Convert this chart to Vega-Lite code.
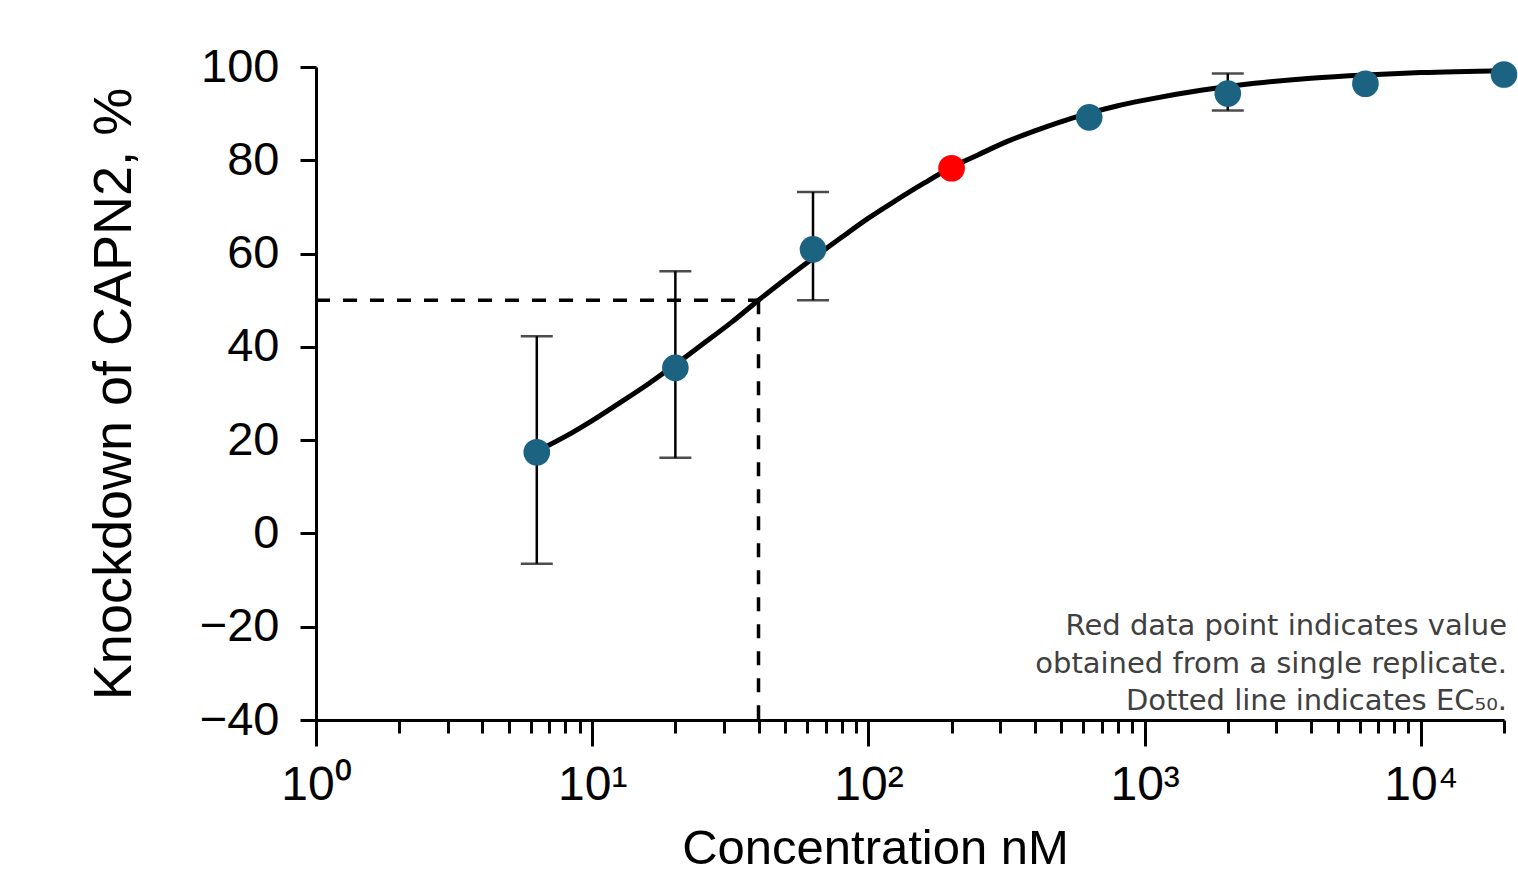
{
  "$schema": "https://vega.github.io/schema/vega-lite/v6.json",
  "width": 1188,
  "height": 653,
  "autosize": "none",
  "padding": {"left": 316, "top": 67, "right": 14, "bottom": 156},
  "background": "white",
  "config": {
    "view": {"stroke": null},
    "font": "Liberation Sans",
    "axis": {"domainColor": "black", "tickColor": "black", "labelColor": "black", "titleColor": "black", "labelFont": "Liberation Sans", "titleFont": "Liberation Sans", "titleFontWeight": "normal", "grid": false}
  },
  "datasets": {
    "obs": [
      {"conc": 6.3, "pct": 17.4, "lo": -6.5, "hi": 42.3, "replicate": "multiple"},
      {"conc": 20, "pct": 35.5, "lo": 16.2, "hi": 56.2, "replicate": "multiple"},
      {"conc": 63, "pct": 60.9, "lo": 50.0, "hi": 73.2, "replicate": "multiple"},
      {"conc": 200, "pct": 78.3, "lo": null, "hi": null, "replicate": "single"},
      {"conc": 630, "pct": 89.2, "lo": null, "hi": null, "replicate": "multiple"},
      {"conc": 2000, "pct": 94.3, "lo": 90.7, "hi": 98.6, "replicate": "multiple"},
      {"conc": 6300, "pct": 96.4, "lo": null, "hi": null, "replicate": "multiple"},
      {"conc": 20000, "pct": 98.4, "lo": null, "hi": null, "replicate": "multiple"}
    ],
    "fit": [
      {"conc": 6.3, "pct": 17.6},
      {"conc": 8, "pct": 20.8},
      {"conc": 10, "pct": 24.2},
      {"conc": 12.5, "pct": 27.9},
      {"conc": 16, "pct": 32.1},
      {"conc": 20, "pct": 36.2},
      {"conc": 25, "pct": 40.5},
      {"conc": 32, "pct": 45.3},
      {"conc": 40, "pct": 50.0},
      {"conc": 50, "pct": 54.5},
      {"conc": 63, "pct": 59.0},
      {"conc": 80, "pct": 63.5},
      {"conc": 100, "pct": 67.6},
      {"conc": 125, "pct": 71.3},
      {"conc": 160, "pct": 75.2},
      {"conc": 200, "pct": 78.5},
      {"conc": 250, "pct": 81.2},
      {"conc": 320, "pct": 84.1},
      {"conc": 400, "pct": 86.3},
      {"conc": 500, "pct": 88.3},
      {"conc": 630, "pct": 90.1},
      {"conc": 800, "pct": 91.7},
      {"conc": 1000, "pct": 92.9},
      {"conc": 1600, "pct": 95.0},
      {"conc": 2500, "pct": 96.5},
      {"conc": 4000, "pct": 97.6},
      {"conc": 6300, "pct": 98.3},
      {"conc": 10000, "pct": 98.8},
      {"conc": 20000, "pct": 99.2}
    ],
    "ec50": [
      {"conc": 1, "pct": 50, "conc2": 40, "pct2": 50},
      {"conc": 40, "pct": 50, "conc2": 40, "pct2": -40}
    ],
    "notes": [
      {"conc": 20000, "pct": -21.8, "label": "Red data point indicates value"},
      {"conc": 20000, "pct": -30.0, "label": "obtained from a single replicate."},
      {"conc": 20000, "pct": -37.9, "label": "Dotted line indicates EC₅₀."}
    ]
  },
  "layer": [
    {
      "data": {"name": "ec50"},
      "mark": {"type": "rule", "color": "black", "strokeWidth": 3.5, "strokeDash": [14, 13]},
      "encoding": {
        "x": {
          "field": "conc", "type": "quantitative",
          "scale": {"type": "log", "domain": [1, 20000], "nice": false},
          "axis": {
            "title": "Concentration nM",
            "values": [1,2,3,4,5,6,7,8,9,10,20,30,40,50,60,70,80,90,100,200,300,400,500,600,700,800,900,1000,2000,3000,4000,5000,6000,7000,8000,9000,10000,20000],
            "labelExpr": "datum.value == 1 ? '10⁰' : datum.value == 10 ? '10¹' : datum.value == 100 ? '10²' : datum.value == 1000 ? '10³' : datum.value == 10000 ? '10⁴' : ''",
            "tickSize": {"condition": {"test": "datum.value == 1 || datum.value == 10 || datum.value == 100 || datum.value == 1000 || datum.value == 10000", "value": 26}, "value": 13},
            "tickWidth": 3,
            "domainWidth": 3,
            "labelFontSize": 48,
            "labelPadding": 15,
            "labelOverlap": false,
            "labelFlush": false,
            "titleFontSize": 49,
            "titlePadding": 15,
            "titleX": 559
          }
        },
        "x2": {"field": "conc2"},
        "y": {
          "field": "pct", "type": "quantitative",
          "scale": {"domain": [-40, 100], "nice": false, "zero": false},
          "axis": {
            "title": "Knockdown of CAPN2, %",
            "values": [-40, -20, 0, 20, 40, 60, 80, 100],
            "tickSize": 16,
            "tickWidth": 3,
            "domainWidth": 3,
            "labelFontSize": 47,
            "labelPadding": 21,
            "titleFontSize": 54,
            "titlePadding": 58
          }
        },
        "y2": {"field": "pct2"}
      }
    },
    {
      "data": {"name": "obs"},
      "transform": [{"filter": "datum.lo != null"}],
      "mark": {"type": "rule", "color": "black", "strokeWidth": 2.5},
      "encoding": {
        "x": {"field": "conc", "type": "quantitative"},
        "y": {"field": "lo", "type": "quantitative"},
        "y2": {"field": "hi"}
      }
    },
    {
      "data": {"name": "obs"},
      "transform": [{"filter": "datum.lo != null"}],
      "mark": {"type": "tick", "orient": "horizontal", "color": "black", "size": 32, "thickness": 2.5},
      "encoding": {
        "x": {"field": "conc", "type": "quantitative"},
        "y": {"field": "lo", "type": "quantitative"}
      }
    },
    {
      "data": {"name": "obs"},
      "transform": [{"filter": "datum.hi != null"}],
      "mark": {"type": "tick", "orient": "horizontal", "color": "black", "size": 32, "thickness": 2.5},
      "encoding": {
        "x": {"field": "conc", "type": "quantitative"},
        "y": {"field": "hi", "type": "quantitative"}
      }
    },
    {
      "data": {"name": "fit"},
      "mark": {"type": "line", "color": "black", "strokeWidth": 5, "interpolate": "monotone"},
      "encoding": {
        "x": {"field": "conc", "type": "quantitative"},
        "y": {"field": "pct", "type": "quantitative"}
      }
    },
    {
      "data": {"name": "obs"},
      "mark": {"type": "circle", "size": 710, "opacity": 1},
      "encoding": {
        "x": {"field": "conc", "type": "quantitative"},
        "y": {"field": "pct", "type": "quantitative"},
        "color": {"field": "replicate", "type": "nominal", "scale": {"domain": ["multiple", "single"], "range": ["#1b6381", "#ff0000"]}, "legend": null}
      }
    },
    {
      "data": {"name": "notes"},
      "mark": {"type": "text", "align": "right", "baseline": "alphabetic", "font": "DejaVu Sans", "fontSize": 29, "color": "#404040", "dx": 3},
      "encoding": {
        "x": {"field": "conc", "type": "quantitative"},
        "y": {"field": "pct", "type": "quantitative"},
        "text": {"field": "label"}
      }
    }
  ]
}
